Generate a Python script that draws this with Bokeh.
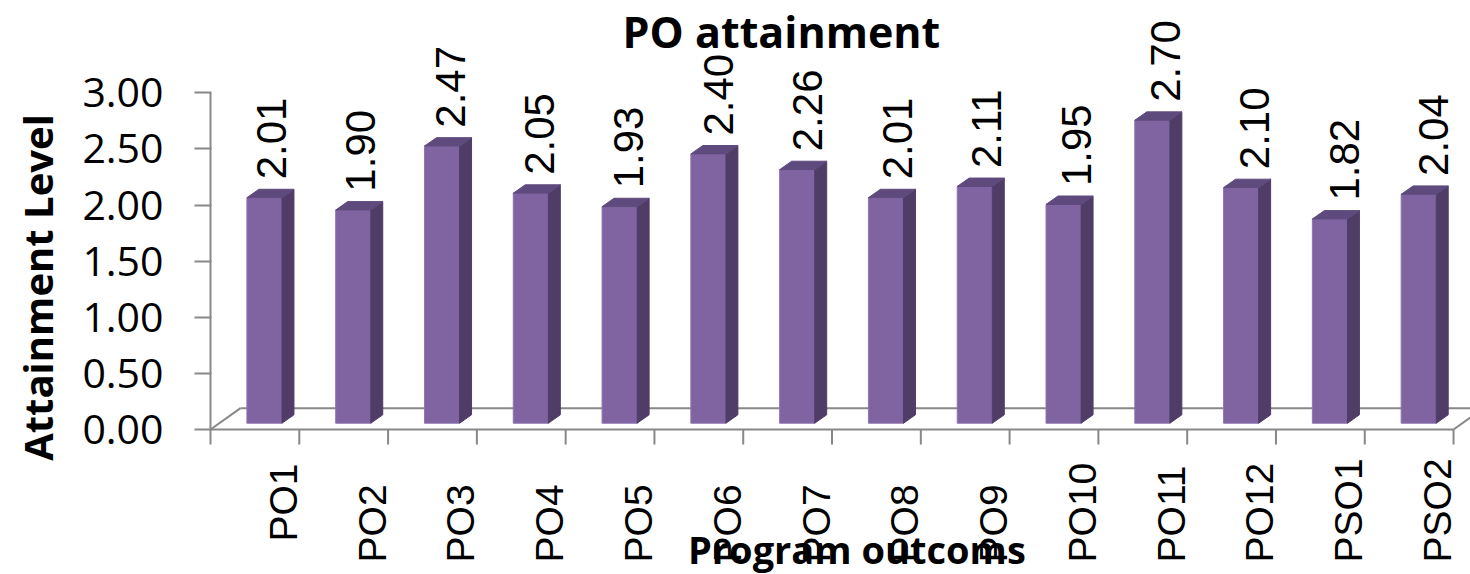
import numpy as np
from bokeh.plotting import figure
from bokeh.models import Range1d, FixedTicker
from bokeh.core.properties import value
from bokeh.embed import file_html
from bokeh.resources import INLINE

# ---- data ----
categories = ["PO1", "PO2", "PO3", "PO4", "PO5", "PO6", "PO7", "PO8", "PO9",
              "PO10", "PO11", "PO12", "PSO1", "PSO2"]
attainment = [2.01, 1.90, 2.47, 2.05, 1.93, 2.40, 2.26, 2.01, 2.11, 1.95,
              2.70, 2.10, 1.82, 2.04]
ytick_values = [0.0, 0.5, 1.0, 1.5, 2.0, 2.5, 3.0]
ytick_labels = ["0.00", "0.50", "1.00", "1.50", "2.00", "2.50", "3.00"]
title_text = "PO attainment"
x_title = "Program outcoms"
y_title = "Attainment Level"

# ---- style ----
FRONT = "#8064A2"
SIDE = "#4F3D67"
TOP = "#5F4A7E"
AXIS = "#888888"

n = len(categories)
idx = np.arange(n)
vals = np.array(attainment)

BASE = 0.056   # bar base lift (3D floor)
BL, BR = 0.41, 0.805   # front face left/right within category
DX, DY = 0.135, 0.075  # bar depth offset
FX, FY = 0.338, 0.19   # floor depth offset

p = figure(width=1470, height=574,
           x_range=Range1d(-0.0225, n + 0.191),
           y_range=Range1d(-1.2923, 3.8235),
           output_backend="svg", toolbar_location=None,
           x_axis_location=None, y_axis_location="left",
           min_border_left=208, min_border_right=0,
           min_border_top=0, min_border_bottom=0,
           title=None, outline_line_color=None,
           background_fill_color="white", border_fill_color="white")
p.grid.visible = False

# y axis
ax = p.yaxis[0]
ax.ticker = FixedTicker(ticks=ytick_values)
ax.major_label_overrides = {v: s for v, s in zip(ytick_values, ytick_labels)}
ax.axis_line_color = None
ax.major_tick_line_color = AXIS
ax.major_tick_line_width = 2
ax.major_tick_out = 14
ax.major_tick_in = 3
ax.minor_tick_line_color = None
ax.major_label_standoff = 31
ax.major_label_text_font = "Open Sans"
ax.major_label_text_font_size = "41px"
ax.major_label_text_color = "black"
ax.axis_label = y_title
ax.axis_label_text_font = "Open Sans"
ax.axis_label_text_font_style = "bold"
ax.axis_label_text_font_size = "40px"
ax.axis_label_text_color = "black"
ax.axis_label_standoff = 14

# floor and axis lines
ymax = max(ytick_values)
p.segment(x0=[0, 0, FX, n], y0=[0, 0, FY, 0],
          x1=[n, FX, n + FX, n + FX], y1=[0, FY, FY, FY],
          line_color=AXIS, line_width=2)
p.segment(x0=[0], y0=[0], x1=[0], y1=[ymax], line_color=AXIS, line_width=2)
ticks_x = np.arange(n + 1)
p.segment(x0=ticks_x, y0=np.zeros(n + 1), x1=ticks_x, y1=np.full(n + 1, -0.134),
          line_color=AXIS, line_width=2)

# bars: front, side, top
tops = vals + BASE
p.quad(left=idx + BL, right=idx + BR, bottom=BASE, top=tops,
       fill_color=FRONT, line_color="#8E76AF", line_width=1)
side_xs = [[i + BR, i + BR + DX, i + BR + DX, i + BR] for i in idx]
side_ys = [[BASE, BASE + DY, t + DY, t] for t in tops]
p.patches(side_xs, side_ys, fill_color=SIDE, line_color=SIDE, line_width=1)
top_xs = [[i + BL, i + BL + DX, i + BR + DX, i + BR] for i in idx]
top_ys = [[t, t + DY, t + DY, t] for t in tops]
p.patches(top_xs, top_ys, fill_color=TOP, line_color=TOP, line_width=1)

# data labels
p.text(x=idx + 0.685 + 0.007 * idx, y=vals + 0.22,
       text=[f"{v:.2f}" for v in attainment], angle=np.pi / 2,
       text_font=value("Liberation Sans"), text_font_size="42px",
       text_align="left", text_baseline="alphabetic", text_color="black")

# category labels
p.text(x=idx[1:] + 0.82, y=np.full(n - 1, -1.185), text=categories[1:],
       angle=np.pi / 2, text_font=value("Liberation Sans"), text_font_size="39px",
       text_align="left", text_baseline="alphabetic", text_color="black")
p.text(x=idx[:1] + 0.82, y=[-0.303], text=categories[:1],
       angle=np.pi / 2, text_font=value("Liberation Sans"), text_font_size="39px",
       text_align="right", text_baseline="alphabetic", text_color="black")

# titles
p.text(x=[6.43], y=[3.545], text=[title_text],
       text_font=value("Open Sans"), text_font_style="bold", text_font_size="43px",
       text_align="center", text_baseline="alphabetic", text_color="black")
p.text(x=[7.28], y=[-1.062], text=[x_title],
       text_font=value("Open Sans"), text_font_style="bold", text_font_size="38px",
       text_align="center", text_baseline="alphabetic", text_color="black")

open("out.html", "w").write(file_html(p, INLINE))
